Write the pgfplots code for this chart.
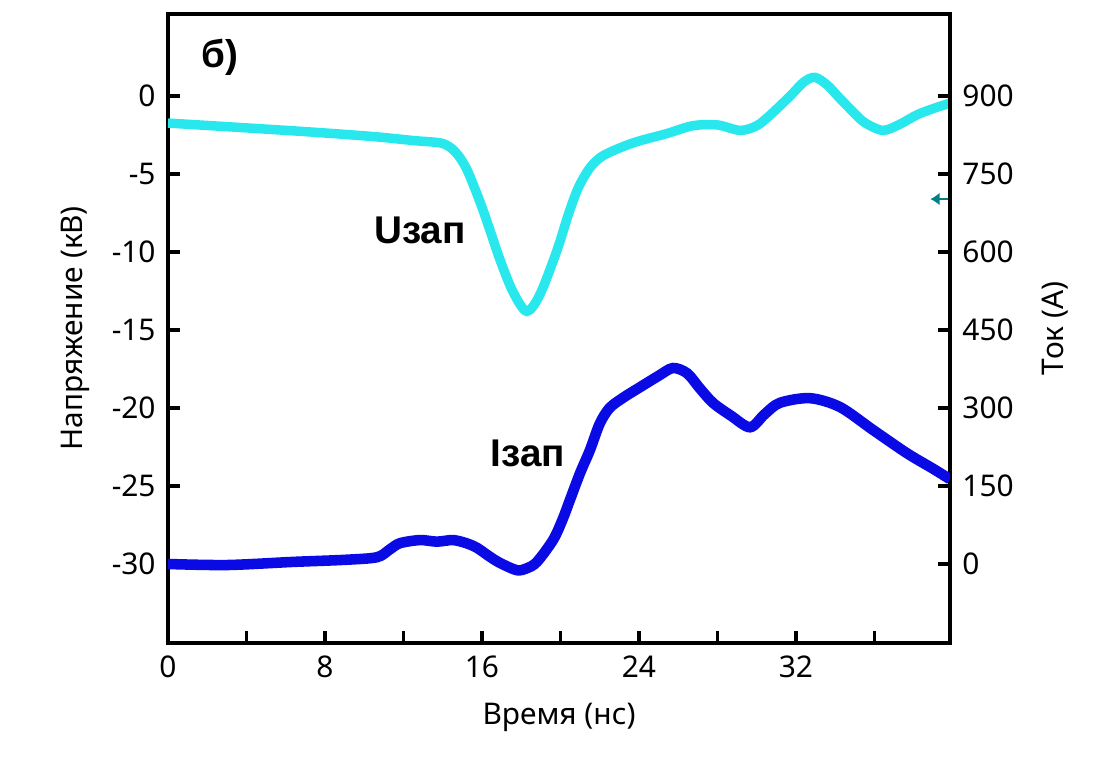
\documentclass[border=0pt]{standalone}
\usepackage{fontspec}
\setmainfont{Noto Sans}
\newfontfamily\labfont{Liberation Sans}
\usepackage{pgfplots}
\pgfplotsset{compat=1.18}
\usetikzlibrary{arrows.meta}
\definecolor{ucol}{RGB}{40,232,238}
\definecolor{icol}{RGB}{10,10,228}
\definecolor{arrcol}{RGB}{0,128,128}

\pgfplotsset{
  base/.style={
    scale only axis, width=7.82cm, height=6.29cm,
    xmin=0, xmax=39.85,
    axis line style={line width=1pt},
    every tick/.style={black, line width=1pt},
    major tick length=0.12cm,
    tick align=inside,
    /pgf/number format/assume math mode=true,
    tick label style={font=\fontsize{8.5}{10}\selectfont},
    label style={font=\fontsize{8.5}{10}\selectfont},
  }
}

\begin{document}
\begin{tikzpicture}
\path[use as bounding box] (-1.68cm,-1.15cm) rectangle (9.37cm,6.43cm);

% voltage, left axis
\begin{axis}[base,
  ymin=-35.06, ymax=5.26,
  ytick={-30,-25,...,0},
  xtick={0,4,...,36}, xticklabels={0,,8,,16,,24,,32,},
  xtick pos=bottom, ytick pos=left,
  xlabel={Время (нс)}, ylabel={Напряжение (кВ)},
  xlabel style={at={(axis description cs:0.5,-0.119)}, anchor=center},
  ylabel style={at={(axis description cs:-0.119,0.5)}, anchor=center},
]
\addplot[ucol, line width=2.7pt, smooth, tension=0.5] coordinates {
(0,-1.73) (3.5,-2.0) (7.24,-2.3) (10.5,-2.6) (12.5,-2.85) (13.86,-3.0)
(14.4,-3.3) (14.85,-3.9) (15.3,-4.9) (16.05,-7.3) (16.92,-10.5)
(17.6,-12.6) (18.29,-13.8) (18.96,-12.7) (19.82,-9.9) (20.4,-7.6)
(20.9,-5.9) (21.5,-4.6) (22.2,-3.8) (23.7,-3.0) (25.43,-2.4)
(26.75,-1.9) (28.0,-1.85) (29.15,-2.2) (30.0,-1.9) (30.7,-1.2)
(31.7,0.0) (32.4,0.9) (32.97,1.2) (33.6,0.7) (34.2,-0.1) (34.9,-1.0)
(35.5,-1.7) (36.43,-2.2) (37.3,-1.8) (38.17,-1.2) (39.0,-0.8) (39.85,-0.45)
};
\node[font=\labfont\bfseries\fontsize{11}{12}\selectfont] at (axis cs:12.84,-8.59) {Uзап};
\node[font=\labfont\bfseries\fontsize{11}{12}\selectfont] at (axis cs:18.34,-22.9) {Iзап};
\node[font=\labfont\bfseries\fontsize{11}{12}\selectfont] at (axis cs:2.65,2.5) {б)};
\draw[arrcol, line width=0.5pt, -{Latex[length=2.6pt,width=3.6pt]}]
  (axis cs:39.8,-6.6) -- (axis cs:38.85,-6.6);
\end{axis}

% current, right axis
\begin{axis}[base,
  ymin=-152, ymax=1058,
  ytick={0,150,...,900},
  hide x axis,
  axis y line*=right,
  ylabel={Ток (А)},
  ylabel style={at={(axis description cs:1.134,0.5)}, anchor=center, rotate=0},
]
\addplot[icol, line width=3.0pt, smooth, tension=0.5] coordinates {
(0,0) (3,-2) (6.37,4) (9,8) (10.65,13) (11.3,28) (11.82,40) (12.84,46)
(13.7,43) (14.52,46) (15.2,40) (15.75,31) (16.4,14) (16.92,2) (17.78,-12)
(18.3,-8) (18.8,4) (19.62,46) (20.1,85) (20.48,123) (21.0,175) (21.5,219)
(22.0,270) (22.5,300) (23.2,320) (24.05,340) (25.0,362) (25.73,377)
(26.45,367) (27.1,338) (27.77,310) (28.7,285) (29.66,263) (30.4,288)
(31.18,310) (32.71,319) (34.24,302) (35.92,258) (37.66,213) (39.0,183)
(39.85,163)
};
\end{axis}
\end{tikzpicture}
\end{document}
